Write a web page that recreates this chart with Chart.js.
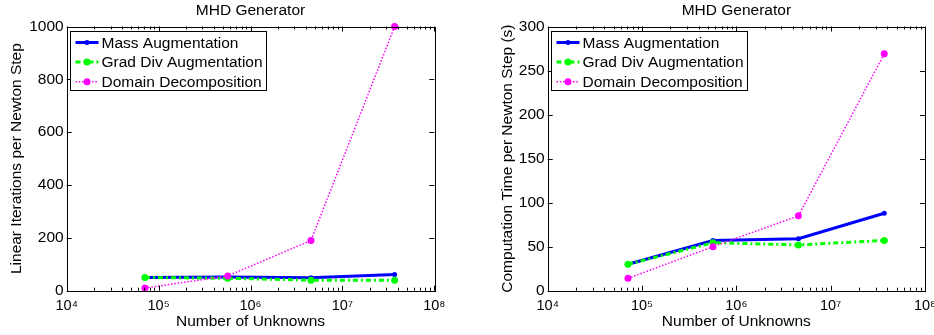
<!DOCTYPE html>
<html>
<head>
<meta charset="utf-8">
<script src="https://cdn.jsdelivr.net/npm/chart.js@4.4.1/dist/chart.umd.min.js"></script>
<style>
  body { margin: 0; background: #fff; }
  #wrap { position: relative; width: 934px; height: 335px; overflow: hidden; }
  canvas { position: absolute; top: 0; }
</style>
</head>
<body>
<div id="wrap">
  <canvas id="iterChart" width="467" height="335" style="left:0"></canvas>
  <canvas id="timeChart" width="467" height="335" style="left:467px"></canvas>
</div>
<script>
// values
var unknowns = [71000, 565000, 4550000, 37000000];
var seriesNames = ['Mass Augmentation', 'Grad Div Augmentation', 'Domain Decomposition'];

var iterMass = [50, 52, 49, 61];
var iterGradDiv = [50, 47, 40, 40];
var iterDomain = [10, 56, 190, 1000];

var timeMass = [30, 57, 59, 88];
var timeGradDiv = [30, 54.5, 52, 57];
var timeDomain = [14, 50, 85, 269];

var xTicks = [1e4, 1e5, 1e6, 1e7, 1e8];
var iterTicks = [0, 200, 400, 600, 800, 1000];
var timeTicks = [0, 50, 100, 150, 200, 250, 300];

var FONT = '"Liberation Sans", Arial, Helvetica, sans-serif';
var SUP = {'0': '\u2070', '1': '\u00b9', '2': '\u00b2', '3': '\u00b3', '4': '\u2074',
           '5': '\u2075', '6': '\u2076', '7': '\u2077', '8': '\u2078', '9': '\u2079'};

function pts(ys) {
    return unknowns.map(function (x, i) { return {x: x, y: ys[i]}; });
}

// matlab style box with inward ticks
var axesBox = {
    id: 'axesBox',
    afterDatasetsDraw: function (chart) {
        var ctx = chart.ctx, a = chart.chartArea;
        var xs = chart.scales.x, ys = chart.scales.y;
        ctx.save();
        ctx.strokeStyle = '#000';
        ctx.lineWidth = 1;
        ctx.beginPath();
        // y ticks
        ys.ticks.forEach(function (t) {
            var py = Math.round(ys.getPixelForValue(t.value)) + 0.5;
            ctx.moveTo(a.left, py); ctx.lineTo(a.left + 5, py);
            ctx.moveTo(a.right, py); ctx.lineTo(a.right - 5, py);
        });
        // x ticks, major + minor
        for (var k = 4; k <= 8; k++) {
            for (var m = 1; m <= 9; m++) {
                var v = m * Math.pow(10, k);
                if (v > 1e8) break;
                var px = Math.round(xs.getPixelForValue(v)) + 0.5;
                var len = m === 1 ? 5 : 3;
                ctx.moveTo(px, a.bottom); ctx.lineTo(px, a.bottom - len);
                ctx.moveTo(px, a.top); ctx.lineTo(px, a.top + len);
            }
        }
        ctx.stroke();
        ctx.strokeRect(Math.round(a.left) + 0.5, Math.round(a.top) + 0.5,
            Math.round(a.right - a.left), Math.round(a.bottom - a.top));
        ctx.restore();
    }
};

// legend drawn inside the axes, top left
var legendBox = {
    id: 'legendBox',
    afterDraw: function (chart) {
        var ctx = chart.ctx, a = chart.chartArea;
        var sets = chart.data.datasets;
        ctx.save();
        ctx.font = '15.5px ' + FONT;
        var w = 0;
        sets.forEach(function (d) { w = Math.max(w, ctx.measureText(d.label).width); });
        var x0 = Math.round(a.left + 3) + 0.5, y0 = Math.round(a.top + 4) + 0.5;
        var rowH = 19.6;
        var bw = Math.round(31 + w + 4), bh = 59;
        ctx.fillStyle = '#fff';
        ctx.fillRect(x0, y0, bw, bh);
        ctx.strokeStyle = '#000';
        ctx.lineWidth = 1;
        ctx.strokeRect(x0, y0, bw, bh);
        sets.forEach(function (d, i) {
            var cy = y0 + 11 + i * rowH;
            ctx.save();
            ctx.strokeStyle = d.borderColor;
            ctx.lineWidth = d.borderWidth;
            ctx.setLineDash(d.borderDash || []);
            ctx.beginPath();
            ctx.moveTo(x0 + 5, cy); ctx.lineTo(x0 + 28, cy);
            ctx.stroke();
            ctx.restore();
            ctx.fillStyle = d.pointBackgroundColor;
            ctx.beginPath();
            ctx.arc(x0 + 16.5, cy, d.pointRadius, 0, Math.PI * 2);
            ctx.fill();
            ctx.fillStyle = '#000';
            ctx.textBaseline = 'middle';
            ctx.fillText(d.label, x0 + 31, cy + 1);
        });
        ctx.restore();
    }
};

function makeChart(id, yTitle, yTickList, mass, gradDiv, domain, yWidth, padRight, yTitlePad) {
    var ctx = document.getElementById(id).getContext('2d');
    return new Chart(ctx, {
        type: 'line',
        data: {
            datasets: [{
                label: seriesNames[0],
                data: pts(mass),
                borderColor: '#0000ff',
                backgroundColor: '#0000ff',
                pointBackgroundColor: '#0000ff',
                borderWidth: 3,
                pointRadius: 2.5,
                pointBorderWidth: 0,
                order: 3,
                clip: false
            }, {
                label: seriesNames[1],
                data: pts(gradDiv),
                borderColor: '#00ff00',
                backgroundColor: '#00ff00',
                pointBackgroundColor: '#00ff00',
                borderWidth: 3,
                borderDash: [5, 3, 2, 3],
                pointRadius: 3.5,
                pointBorderWidth: 0,
                order: 2,
                clip: false
            }, {
                label: seriesNames[2],
                data: pts(domain),
                borderColor: '#ff00ff',
                backgroundColor: '#ff00ff',
                pointBackgroundColor: '#ff00ff',
                borderWidth: 1.5,
                borderDash: [1.5, 1.8],
                pointRadius: 3.5,
                pointBorderWidth: 0,
                order: 1,
                clip: false
            }]
        },
        options: {
            responsive: false,
            animation: false,
            devicePixelRatio: 1,
            layout: { padding: { left: 0, right: padRight, top: 0, bottom: 0 } },
            plugins: {
                legend: { display: false },
                tooltip: { enabled: false },
                title: {
                    display: true,
                    fullSize: false,
                    text: 'MHD Generator',
                    color: '#000',
                    font: { family: FONT, size: 15.5, weight: 'normal' },
                    padding: { top: 1, bottom: 6.9 }
                }
            },
            scales: {
                x: {
                    type: 'logarithmic',
                    min: 1e4,
                    max: 1e8,
                    afterBuildTicks: function (s) {
                        s.ticks = xTicks.map(function (v) { return {value: v, major: true}; });
                    },
                    afterFit: function (s) {
                        s.height = 44.3;
                        s.paddingLeft = 0;
                        s.paddingRight = 0;
                    },
                    grid: { display: false, drawTicks: false },
                    border: { display: false },
                    ticks: {
                        color: '#000',
                        padding: 7,
                        maxRotation: 0,
                        autoSkip: false,
                        font: { family: FONT, size: 14.5 },
                        callback: function (v) {
                            return '10' + SUP[String(Math.round(Math.log10(v)))];
                        }
                    },
                    title: {
                        display: true,
                        text: 'Number of Unknowns',
                        color: '#000',
                        font: { family: FONT, size: 15.5 },
                        padding: { top: 0, bottom: 4.2 }
                    }
                },
                y: {
                    min: yTickList[0],
                    max: yTickList[yTickList.length - 1],
                    afterBuildTicks: function (s) {
                        s.ticks = yTickList.map(function (v) { return {value: v}; });
                    },
                    afterFit: function (s) {
                        s.width = yWidth;
                        s.paddingTop = 0;
                        s.paddingBottom = 0;
                    },
                    grid: { display: false, drawTicks: false },
                    border: { display: false },
                    ticks: {
                        color: '#000',
                        padding: 3,
                        font: { family: FONT, size: 15.5 },
                        callback: function (v) { return String(v); }
                    },
                    title: {
                        display: true,
                        text: yTitle,
                        color: '#000',
                        font: { family: FONT, size: 15.5 },
                        padding: { top: yTitlePad, bottom: 0 }
                    }
                }
            }
        },
        plugins: [axesBox, legendBox]
    });
}

makeChart('iterChart', 'Linear Iterations per Newton Step', iterTicks,
    iterMass, iterGradDiv, iterDomain, 66.7, 32.7, 7.4);
makeChart('timeChart', 'Computation Time per Newton Step (s)', timeTicks,
    timeMass, timeGradDiv, timeDomain, 80.7, 9, 31);
</script>
</body>
</html>
